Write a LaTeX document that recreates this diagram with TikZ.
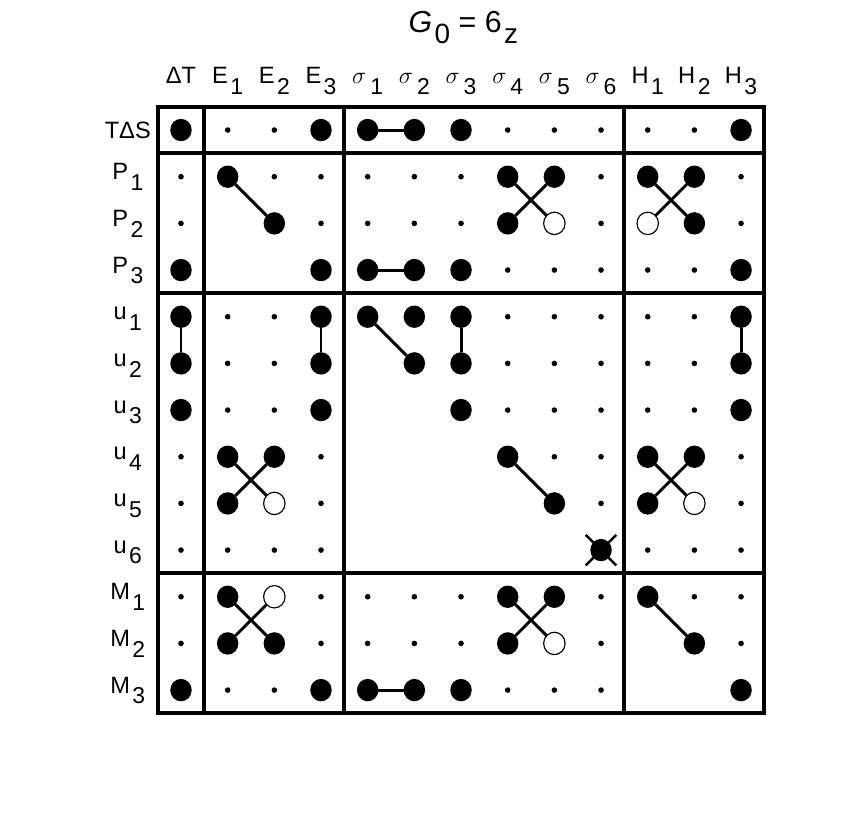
\documentclass[tikz,border=0pt]{standalone}
\usepackage{fontspec}
\setmainfont{Liberation Sans}
\usetikzlibrary{shapes.misc,shapes.geometric}
\newcommand\sbs[1]{\kern1.5pt\raisebox{-6.5pt}{\fontsize{14}{16}\selectfont #1}}
\newcommand\tsbs[1]{\kern1.5pt\raisebox{-7.1pt}{\fontsize{17}{20}\selectfont #1}}
\newcommand\sig[1]{$\sigma$\kern1pt\sbs{#1}}
\tikzset{
  mkb/.style={ellipse, fill=black, minimum width=0.46cm, minimum height=0.48cm, inner sep=0pt, outer sep=0pt},
  mko/.style={ellipse, draw=black, line width=0.7pt, fill=white, minimum width=0.46cm, minimum height=0.48cm, inner sep=0pt, outer sep=0pt},
  mks/.style={circle, fill=black, minimum size=0.12cm, inner sep=0pt, outer sep=0pt},
  mkn/.style={inner sep=0pt, outer sep=0pt, minimum size=0pt},
  crossmark/.style={cross out, draw=black, line width=1.5pt, minimum size=0.6cm, inner sep=0pt},
  link/.style={line width=1.8pt},
  frame/.style={line width=2.4pt},
  hdr/.style={anchor=base, font=\fontsize{14.4}{17}\selectfont},
  rowlab/.style={font=\fontsize{14.4}{17}\selectfont, text height=10.4pt},
  ttl/.style={anchor=base, font=\fontsize{18.5}{22}\selectfont}
}
\begin{document}
\begin{tikzpicture}
\useasboundingbox (-3.878,2.786) rectangle (14.463,-14.614);
\node[ttl] (title) at (6.05,2.1) {\textit{G}\tsbs{0} = 6\tsbs{z}};
\foreach \hd [count=\c from 0] in {ΔT,E\sbs{1},E\sbs{2},E\sbs{3},\sig{1},\sig{2},\sig{3},\sig{4},\sig{5},\sig{6},H\sbs{1},H\sbs{2},H\sbs{3}}
  \node[hdr] (hd\c) at (\c,1) {\hd};
\draw[frame] (-0.5,0.5) rectangle (12.5,-12.5);
\foreach \x in {0.5,3.5,9.5}
  \draw[frame] (\x,0.5) -- (\x,-12.5);
\foreach \y in {-0.5,-3.5,-9.5}
  \draw[frame] (-0.5,\y) -- (12.5,\y);
\foreach \lab/\spec [count=\r from 0] in {
  TΔS/{b,s,s,b,b,b,b,s,s,s,s,s,b},
  P\sbs{1}/{s,b,s,s,s,s,s,b,b,s,b,b,s},
  P\sbs{2}/{s,n,b,s,s,s,s,b,o,s,o,b,s},
  P\sbs{3}/{b,n,n,b,b,b,b,s,s,s,s,s,b},
  u\sbs{1}/{b,s,s,b,b,b,b,s,s,s,s,s,b},
  u\sbs{2}/{b,s,s,b,n,b,b,s,s,s,s,s,b},
  u\sbs{3}/{b,s,s,b,n,n,b,s,s,s,s,s,b},
  u\sbs{4}/{s,b,b,s,n,n,n,b,s,s,b,b,s},
  u\sbs{5}/{s,b,o,s,n,n,n,n,b,s,b,o,s},
  u\sbs{6}/{s,s,s,s,n,n,n,n,n,b,s,s,s},
  M\sbs{1}/{s,b,o,s,s,s,s,b,b,s,b,s,s},
  M\sbs{2}/{s,b,b,s,s,s,s,b,o,s,n,b,s},
  M\sbs{3}/{b,s,s,b,b,b,b,s,s,s,n,n,b}}{
  \node[rowlab] (lab\r) at (-1.14,-\r) {\lab};
  \foreach \k [count=\c from 0] in \spec
    \node[mk\k] (\r-\c) at (\c,-\r) {};
}
\node[crossmark] (u6x) at (9-9) {};
\foreach \a/\b in {0-4/0-5,1-1/2-2,1-7/2-8,1-8/2-7,1-10/2-11,1-11/2-10,3-4/3-5,
  4-0/5-0,4-3/5-3,4-4/5-5,4-6/5-6,4-12/5-12,7-1/8-2,7-2/8-1,7-7/8-8,7-10/8-11,
  7-11/8-10,10-1/11-2,10-2/11-1,10-7/11-8,10-8/11-7,10-10/11-11,12-4/12-5}
  \draw[link] (\a) -- (\b);
\end{tikzpicture}
\end{document}
